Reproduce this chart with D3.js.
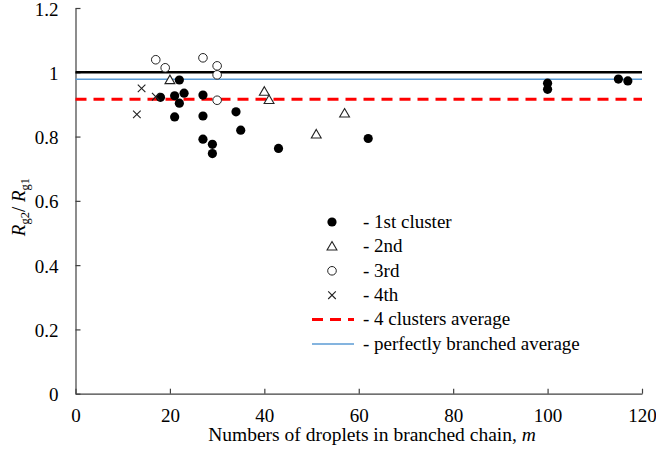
<!DOCTYPE html>
<html>
<head>
<meta charset="utf-8">
<script src="https://cdn.jsdelivr.net/npm/d3@7"></script>
<style>
  body { margin: 0; background: #fff; }
  svg text { font-family: "Liberation Serif", "Times New Roman", Times, serif; fill: #000; }
</style>
</head>
<body>
<svg width="656" height="454"></svg>
<script>
// cluster data (m, Rg2/Rg1)
var c1M = [18, 21, 21, 22, 22, 23, 27, 27, 27, 29, 29, 34, 35, 43, 62, 100, 100, 115, 117];
var c1V = [0.922, 0.927, 0.861, 0.976, 0.904, 0.935, 0.929, 0.864, 0.792, 0.776, 0.747, 0.877, 0.820, 0.763, 0.794, 0.966, 0.947, 0.979, 0.973];
var c2M = [20, 40, 41, 51, 57];
var c2V = [0.976, 0.940, 0.914, 0.807, 0.872];
var c3M = [17, 19, 27, 30, 30, 30];
var c3V = [1.039, 1.014, 1.045, 1.020, 0.992, 0.913];
var c4M = [14, 17, 13];
var c4V = [0.950, 0.924, 0.869];

var refLevel = 1.0;
var avgLevel = 0.916;
var perfectLevel = 0.978;
var lineRange = [0, 120];

var xTicks = [0, 20, 40, 60, 80, 100, 120];
var yTicks = [0, 0.2, 0.4, 0.6, 0.8, 1, 1.2];
var legendLabels = ["- 1st cluster", "- 2nd", "- 3rd", "- 4th", "- 4 clusters average", "- perfectly branched average"];

var svg = d3.select("svg");
var FONT = "Liberation Serif";

var x = d3.scaleLinear().domain([0, 120]).range([75.5, 642]);
var y = d3.scaleLinear().domain([0, 1.2]).range([393.7, 8]);

// axes
var xAxis = d3.axisBottom(x).tickValues(xTicks).tickSizeInner(-5).tickSizeOuter(0).tickPadding(10);
var yAxis = d3.axisLeft(y).tickValues(yTicks).tickSizeInner(-5).tickSizeOuter(0).tickPadding(12)
    .tickFormat(function (d) { return String(+d.toFixed(1)); });

var gx = svg.append("g").attr("transform", "translate(0," + y(0) + ")").call(xAxis);
var gy = svg.append("g").attr("transform", "translate(" + x(0) + ",0)").call(yAxis);

[gx, gy].forEach(function (g) {
    g.attr("font-family", FONT).attr("font-size", 19);
    g.selectAll("path, line").attr("stroke", "#404040").attr("stroke-width", 1.2);
    g.selectAll("text").attr("fill", "#000");
});
gy.selectAll("text").attr("x", -17).attr("dy", "0.37em");
gx.selectAll("text").attr("dy", "0.96em");

// axis titles
var xt = svg.append("text")
    .attr("x", 372).attr("y", 441)
    .attr("text-anchor", "middle")
    .attr("font-family", FONT).attr("font-size", 19.5);
xt.append("tspan").text("Numbers of droplets in branched chain, ");
xt.append("tspan").attr("font-style", "italic").text("m");

var yl = svg.append("text")
    .attr("transform", "translate(25,207) rotate(-90)")
    .attr("text-anchor", "middle")
    .attr("font-family", FONT).attr("font-size", 19);
yl.append("tspan").attr("font-style", "italic").text("R");
yl.append("tspan").attr("font-size", 12.5).attr("dy", 4).text("g2");
yl.append("tspan").attr("dy", -4).text("/ ");
yl.append("tspan").attr("font-style", "italic").text("R");
yl.append("tspan").attr("font-size", 12.5).attr("dy", 4).text("g1");

// horizontal reference lines
function hline(v, color, w, dash) {
    var l = svg.append("line")
        .attr("x1", x(lineRange[0])).attr("x2", x(lineRange[1]))
        .attr("y1", y(v)).attr("y2", y(v))
        .attr("stroke", color).attr("stroke-width", w);
    if (dash) l.attr("stroke-dasharray", dash);
    return l;
}
hline(refLevel, "#000", 2.5);
hline(perfectLevel, "#5B9BD5", 1.5);
hline(avgLevel, "#FF0000", 3, "11,7");

// markers
function zip(ms, vs) { return ms.map(function (m, i) { return [m, vs[i]]; }); }

var triPath = d3.symbol().type(d3.symbolTriangle).size(42)();
var crossPath = "M-3.8,-3.8L3.8,3.8M-3.8,3.8L3.8,-3.8";

function drawFilled(g, px, py) {
    g.append("circle").attr("cx", px).attr("cy", py).attr("r", 4.6).attr("fill", "#000");
}
function drawTri(g, px, py) {
    g.append("path").attr("d", triPath).attr("transform", "translate(" + px + "," + (py + 0.8) + ")")
        .attr("fill", "#fff").attr("stroke", "#222").attr("stroke-width", 1.1);
}
function drawOpen(g, px, py) {
    g.append("circle").attr("cx", px).attr("cy", py).attr("r", 4.3)
        .attr("fill", "#fff").attr("stroke", "#222").attr("stroke-width", 1);
}
function drawCross(g, px, py) {
    g.append("path").attr("d", crossPath).attr("transform", "translate(" + px + "," + py + ")")
        .attr("fill", "none").attr("stroke", "#222").attr("stroke-width", 1.1);
}

var pts = svg.append("g");
zip(c1M, c1V).forEach(function (d) { drawFilled(pts, x(d[0]), y(d[1])); });
zip(c2M, c2V).forEach(function (d) { drawTri(pts, x(d[0]), y(d[1])); });
zip(c3M, c3V).forEach(function (d) { drawOpen(pts, x(d[0]), y(d[1])); });
zip(c4M, c4V).forEach(function (d) { drawCross(pts, x(d[0]), y(d[1])); });

// legend
var lg = svg.append("g").attr("transform", "translate(332,222)");
var rowH = 24.4;
var drawers = [drawFilled, drawTri, drawOpen, drawCross];
legendLabels.forEach(function (label, i) {
    var ry = i * rowH;
    if (i < 4) {
        drawers[i](lg, 0, ry);
    } else if (i === 4) {
        lg.append("line").attr("x1", -20).attr("x2", 22).attr("y1", ry).attr("y2", ry)
            .attr("stroke", "#FF0000").attr("stroke-width", 3).attr("stroke-dasharray", "11,7");
    } else {
        lg.append("line").attr("x1", -20).attr("x2", 22).attr("y1", ry).attr("y2", ry)
            .attr("stroke", "#5B9BD5").attr("stroke-width", 1.5);
    }
    lg.append("text").attr("x", 31).attr("y", ry + 5.8)
        .attr("font-family", FONT).attr("font-size", 19).text(label);
});
</script>
</body>
</html>
